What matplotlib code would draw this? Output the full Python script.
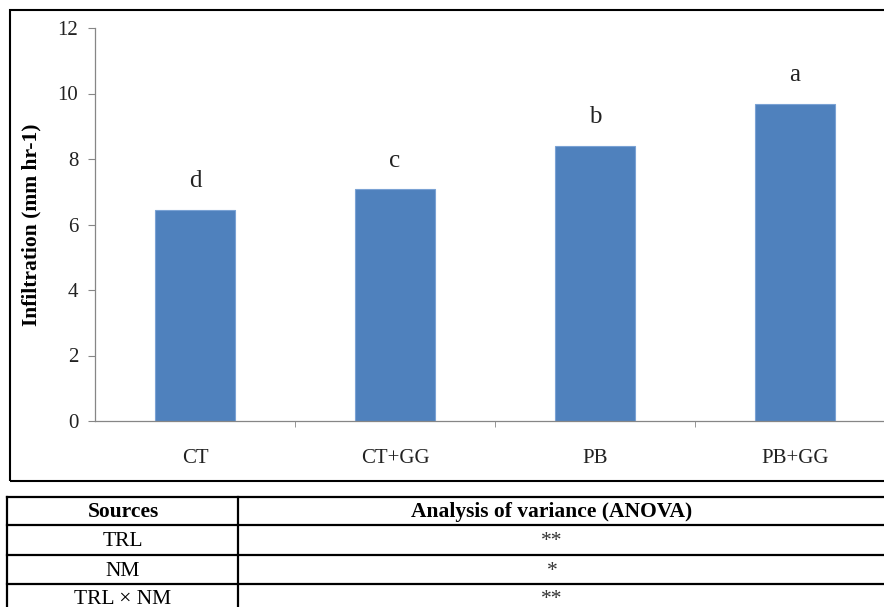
import matplotlib
matplotlib.use('Agg')
import matplotlib.pyplot as plt
from matplotlib.lines import Line2D
from matplotlib.patches import Rectangle

plt.rcParams['font.family'] = ['Liberation Serif', 'DejaVu Serif']

# chart data
treatments = ['CT', 'CT+GG', 'PB', 'PB+GG']
infiltration = [6.43, 7.07, 8.41, 9.68]
letters = ['d', 'c', 'b', 'a']
yTicks = [0, 2, 4, 6, 8, 10, 12]

# anova table under the chart
sources = ['TRL', 'NM', 'TRL \u00d7 NM']
anova = ['**', '*', '**']
tableHeader = ['Sources', 'Analysis of variance (ANOVA)']

W, H = 884, 607


def fx(px):
    return px / W


def fy(py):
    return 1 - py / H


fig = plt.figure(figsize=(W / 100, H / 100), dpi=100)

ax = fig.add_axes([fx(95), fy(421), fx(895) - fx(95), fy(28) - fy(421)])
inds = list(range(len(treatments)))
ax.bar(inds, infiltration, width=0.4, color='#4F81BD', edgecolor='#7aa2d4',
       linewidth=0.8, zorder=2)

for i, val in enumerate(infiltration):
    ax.text(i, val + 0.7, letters[i], ha='center', va='baseline',
            fontsize=18, color='#222222')

ax.set_xlim(-0.5, len(treatments) - 0.5)
ax.set_ylim(0, 12)
ax.set_yticks(yTicks)
ax.set_xticks(inds)
ax.set_xticklabels(treatments, fontsize=15, color='#222222')
ax.set_xticks([i + 0.5 for i in inds], minor=True)
ax.tick_params(axis='x', which='major', length=0, pad=20)
ax.tick_params(axis='x', which='minor', length=4, direction='out',
               color='#868686')
ax.tick_params(axis='y', length=5, direction='out', color='#868686',
               labelsize=15, labelcolor='#222222', pad=7)
for s in ['top', 'right']:
    ax.spines[s].set_visible(False)
for s in ['left', 'bottom']:
    ax.spines[s].set_color('#868686')
    ax.spines[s].set_linewidth(0.9)

fig.text(fx(31), fy(225), 'Infiltration (mm hr-1)', rotation=90,
         ha='center', va='center', fontsize=15.5, fontweight='bold')

# outer box of the chart
fig.patches.append(Rectangle((fx(10), fy(481)), fx(900) - fx(10),
                             fy(10) - fy(481), transform=fig.transFigure,
                             fill=False, edgecolor='black', linewidth=1.5))

# table
rowLines = [497, 525, 555, 584]
for y in rowLines:
    fig.add_artist(Line2D([fx(7), fx(900)], [fy(y), fy(y)], color='black',
                          linewidth=1.6))
for x in [7, 238]:
    fig.add_artist(Line2D([fx(x), fx(x)], [fy(497), fy(620)], color='black',
                          linewidth=1.6))

fig.text(fx(123), fy(512), tableHeader[0], ha='center', va='center',
         fontsize=15.5, fontweight='bold')
fig.text(fx(552), fy(512), tableHeader[1], ha='center', va='center',
         fontsize=15.5, fontweight='bold')
rowCenters = [542, 571, 599]
for i, src in enumerate(sources):
    fig.text(fx(123), fy(rowCenters[i]), src, ha='center', va='center',
             fontsize=15.5)
    fig.text(fx(552), fy(rowCenters[i]), anova[i], ha='center', va='center',
             fontsize=15.5, color='#333333')

fig.savefig('out.png', dpi=100)
